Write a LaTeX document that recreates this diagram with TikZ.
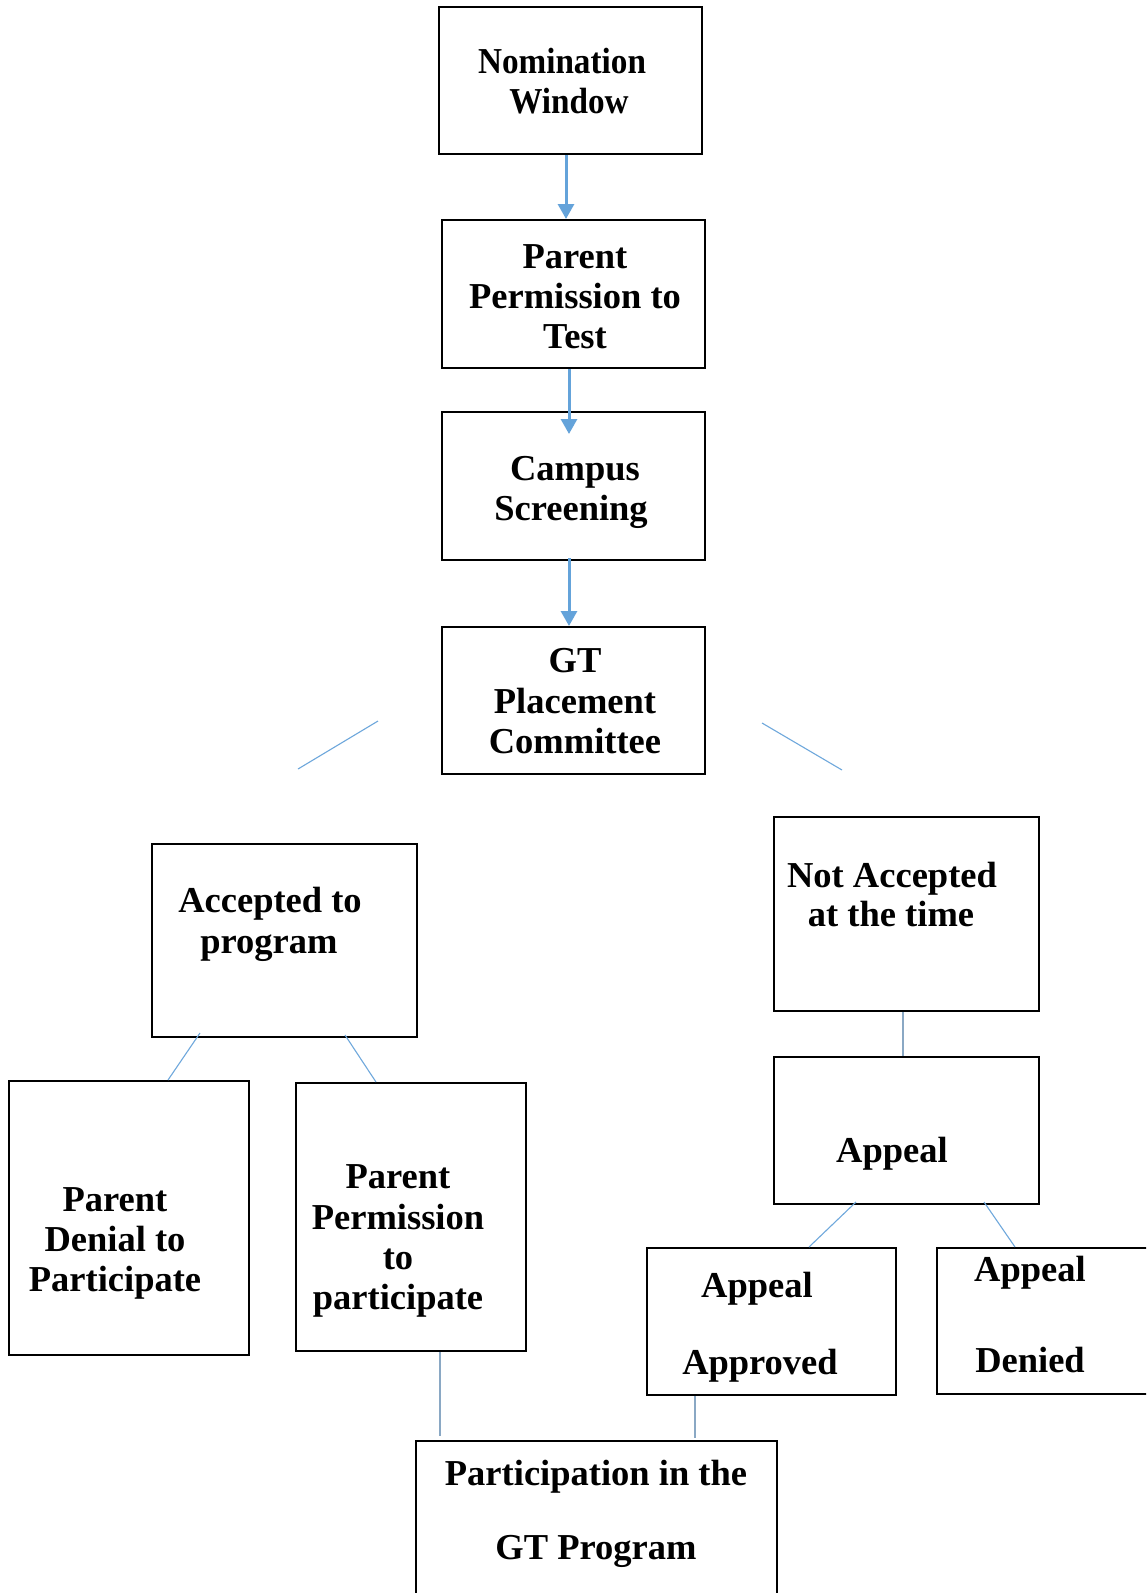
\documentclass[tikz,border=0pt]{standalone}
\usepackage{fontspec}
\setmainfont{Liberation Serif}
\usetikzlibrary{arrows.meta}
\definecolor{arrblue}{HTML}{64A3DA}
\definecolor{lineblue}{HTML}{6FA8DC}
\definecolor{greyblue}{HTML}{8AA8C4}
\tikzset{
  box/.style={draw=black, line width=2pt, fill=none, inner sep=0pt},
  txt/.style={font=\bfseries\fontsize{36.5}{40}\selectfont, anchor=base, inner sep=0pt},
  arr/.style={draw=arrblue, line width=3pt, -{Triangle[width=16pt,length=15pt]}},
  thin/.style={draw=lineblue, line width=1.1pt},
  vline/.style={draw=greyblue, line width=1.6pt}
}
\begin{document}
\begin{tikzpicture}[x=1pt,y=-1pt]
\useasboundingbox (0,0) rectangle (1146,1593);
\clip (0,0) rectangle (1146,1593);
\fill[white] (0,0) rectangle (1146,1593);
% boxes
\node[box, line width=2.8pt, minimum width=263pt, minimum height=147pt] (b1) at (570.5,80.5) {};
\node[box, minimum width=263pt, minimum height=148pt] (b2) at (573.5,294) {};
\node[box, minimum width=263pt, minimum height=148pt] (b3) at (573.5,486) {};
\node[box, minimum width=263pt, minimum height=147pt] (b4) at (573.5,700.5) {};
\node[box, minimum width=265pt, minimum height=193pt] (acc) at (284.5,940.5) {};
\node[box, minimum width=265pt, minimum height=194pt] (nacc) at (906.5,914) {};
\node[box, minimum width=265pt, minimum height=147pt] (app) at (906.5,1130.5) {};
\node[box, minimum width=240pt, minimum height=274pt] (den) at (129,1218) {};
\node[box, minimum width=230pt, minimum height=268pt] (pp) at (411,1217) {};
\node[box, minimum width=249pt, minimum height=147pt] (apa) at (771.5,1321.5) {};
\node[box, minimum width=223pt, minimum height=146pt] (apd) at (1048.5,1321) {};
\node[box, minimum width=361pt, minimum height=169pt] (part) at (596.5,1525.5) {};
% texts
\node[txt] (t1a) at (562,73) {\scalebox{0.91}[1]{Nomination}};
\node[txt] (t1b) at (569,113) {\scalebox{0.91}[1]{Window}};
\node[txt] (t2a) at (575,268) {Parent};
\node[txt] (t2b) at (575,308) {Permission to};
\node[txt] (t2c) at (575,348) {Test};
\node[txt] (t3a) at (575,480) {Campus};
\node[txt] (t3b) at (571,520) {Screening};
\node[txt] (t4a) at (575,672) {GT};
\node[txt] (t4b) at (575,713) {Placement};
\node[txt] (t4c) at (575,753) {Committee};
\node[txt] (t5a) at (270,912) {Accepted to};
\node[txt] (t5b) at (269,953) {program};
\node[txt] (t6a) at (892,887) {Not Accepted};
\node[txt] (t6b) at (891,926) {at the time};
\node[txt] (t7) at (892,1162) {Appeal};
\node[txt] (t8a) at (115,1211) {Parent};
\node[txt] (t8b) at (115,1251) {Denial to};
\node[txt] (t8c) at (115,1291) {Participate};
\node[txt] (t9a) at (398,1188) {Parent};
\node[txt] (t9b) at (398,1229) {Permission};
\node[txt] (t9c) at (398,1269) {to};
\node[txt] (t9d) at (398,1309) {participate};
\node[txt] (t10a) at (757,1297) {Appeal};
\node[txt] (t10b) at (760,1374) {Approved};
\node[txt] (t11a) at (1030,1281) {Appeal};
\node[txt] (t11b) at (1030,1372) {Denied};
\node[txt] (t12a) at (596,1485) {Participation in the};
\node[txt] (t12b) at (596,1559) {GT Program};
% arrows
\draw[arr] ([xshift=-4.5pt]b1.south) -- ([xshift=-7.5pt]b2.north);
\draw[arr] ([xshift=-4.5pt]b2.south) -- ([xshift=-4.5pt,yshift=-23pt]b3.north);
\draw[arr] ([xshift=-4.5pt,yshift=3pt]b3.south) -- ([xshift=-4.5pt]b4.north);
% free diagonal lines near GT Placement Committee
\coordinate (dl1) at (378,721);
\coordinate (dl2) at (298,769);
\coordinate (dr1) at (762,723);
\coordinate (dr2) at (842,770);
\draw[thin] (dl1) -- (dl2);
\draw[thin] (dr1) -- (dr2);
% branch lines
\draw[thin] ([xshift=-84.5pt,yshift=5pt]acc.south) -- ([xshift=39pt]den.north);
\draw[thin] ([xshift=60.5pt,yshift=3pt]acc.south) -- ([xshift=-35pt]pp.north);
\draw[vline] ([xshift=-3.5pt]nacc.south) -- ([xshift=-3.5pt]app.north);
\draw[thin] ([xshift=-50.5pt,yshift=3pt]app.south) -- ([xshift=37.5pt]apa.north);
\draw[thin] ([xshift=77.5pt,yshift=3pt]app.south) -- ([xshift=-33.5pt]apd.north);
\draw[vline] ([xshift=29pt]pp.south) -- ([xshift=440pt-596.5pt,yshift=4pt]part.north);
\draw[vline] ([xshift=-76.5pt]apa.south) -- ([xshift=695pt-596.5pt,yshift=2pt]part.north);
\end{tikzpicture}
\end{document}
